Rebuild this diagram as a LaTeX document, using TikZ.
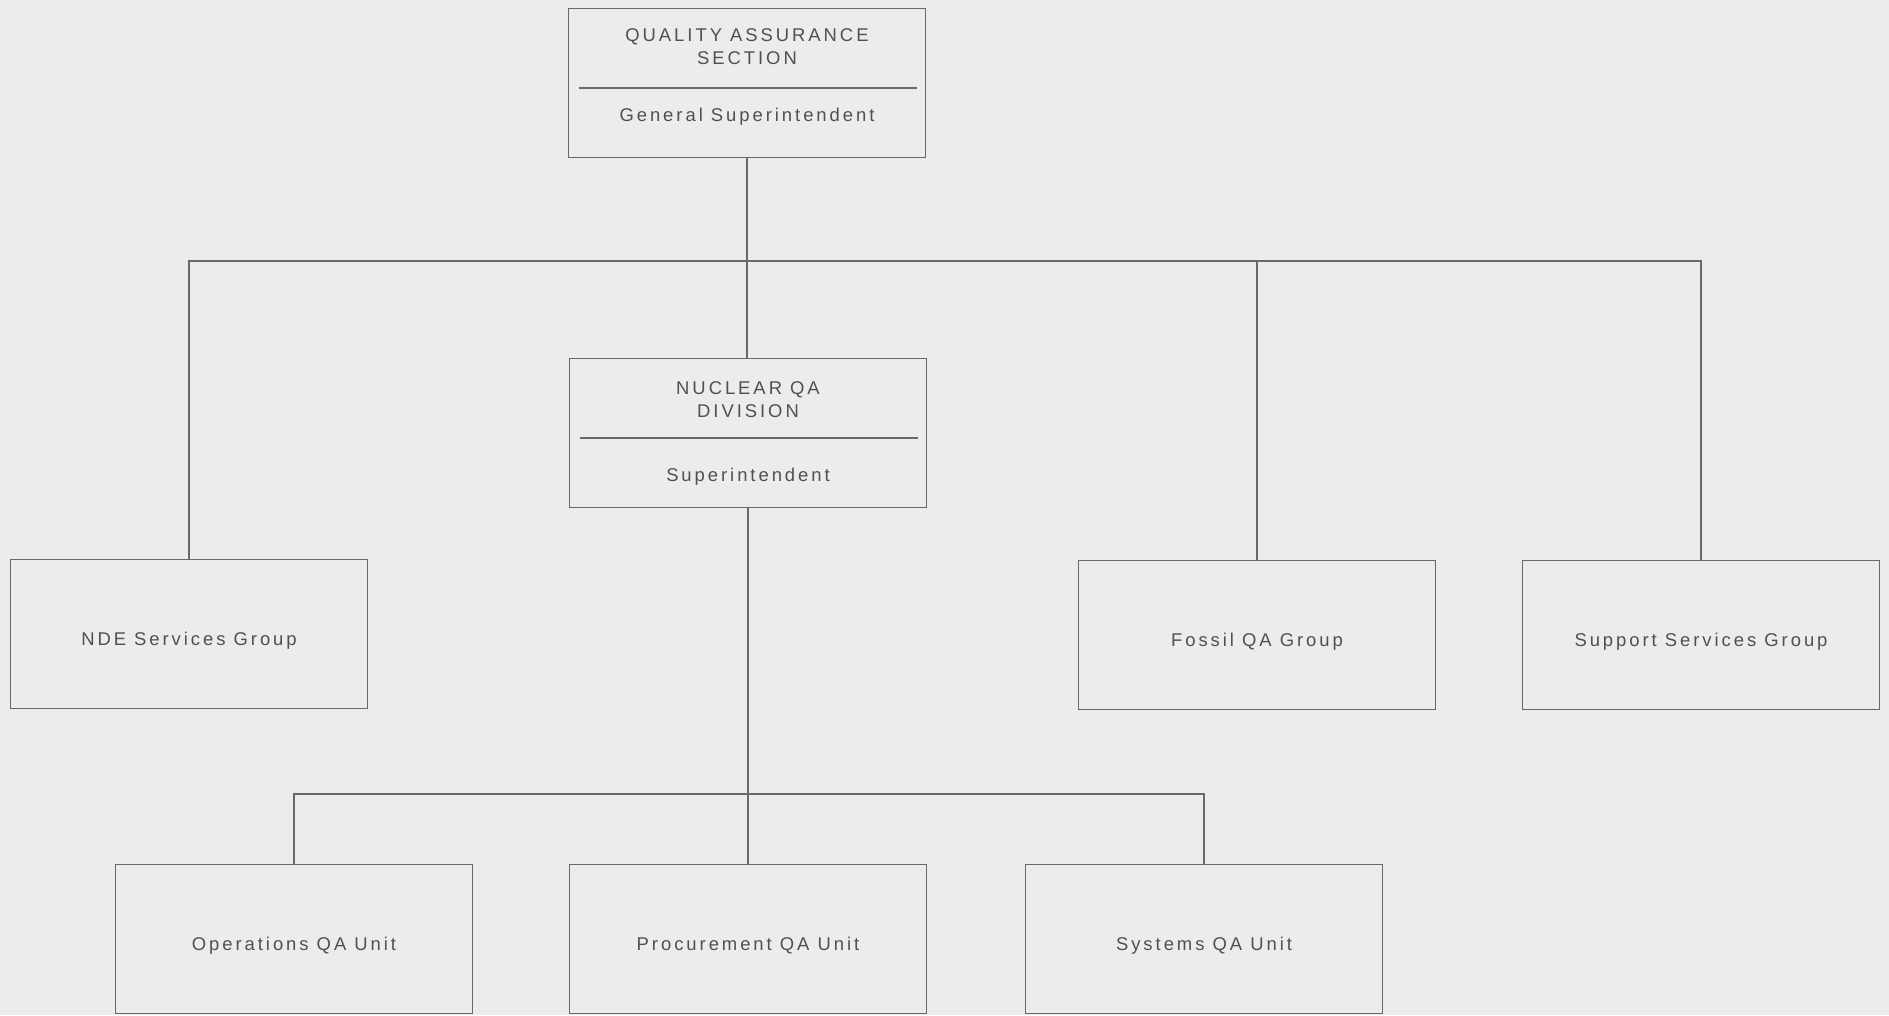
\documentclass[tikz,border=0pt]{standalone}
\usepackage{fontspec}
\setmainfont{Liberation Sans}[LetterSpace=16]
\usetikzlibrary{positioning,calc}
\definecolor{paper}{RGB}{236,236,236}
\definecolor{ink}{RGB}{80,80,80}
\definecolor{rule}{RGB}{105,105,105}

\begin{document}
\begin{tikzpicture}[
  x=0.02cm, y=-0.02cm,
  every node/.style={font=\fontsize{10.5}{13}\selectfont, text=ink},
  unit/.style={draw=rule, line width=0.8pt, minimum width=7.14cm, minimum height=2.98cm, inner sep=0pt, text height=13pt, text depth=0pt},
  link/.style={draw=rule, line width=0.8pt}
]
\fill[paper] (0,0) rectangle (1889,1015);
\useasboundingbox (0,0) rectangle (1889,1015);

% section head
\node[unit] (qas) at (747,83) {};
\node[align=center] (qastitle) at (747,47) {QUALITY ASSURANCE\\SECTION};
\node (qashead) at (747,117) {General Superintendent};
\draw[link] ($(qas.west)+(11,5)$) -- ($(qas.east)+(-9,5)$);

% division
\node[unit] (nqa) at (748,433) {};
\node[align=center] (nqatitle) at (748,400) {NUCLEAR QA\\DIVISION};
\node (nqahead) at (748,477) {Superintendent};
\draw[link] ($(nqa.west)+(11,5)$) -- ($(nqa.east)+(-9,5)$);

% groups
\node[unit] (nde) at (189,634) {NDE Services Group};
\node[unit] (fossil) at (1257,635) {Fossil QA Group};
\node[unit] (support) at (1701,635) {Support Services Group};

% units
\node[unit] (ops) at (294,939) {Operations QA Unit};
\node[unit] (proc) at (748,939) {Procurement QA Unit};
\node[unit] (sys) at (1204,939) {Systems QA Unit};

\coordinate (bus) at (747,261);
\coordinate (subbus) at (747,794);

\draw[link] (qas.south) -- (qas.south |- nqa.north);
\draw[link] (nde.north) |- (bus) -| (support.north);
\draw[link] (fossil.north) -- (fossil.north |- bus);
\draw[link] (nqa.south) -- (proc.north);
\draw[link] (ops.north) |- (subbus) -| (sys.north);
\end{tikzpicture}
\end{document}
